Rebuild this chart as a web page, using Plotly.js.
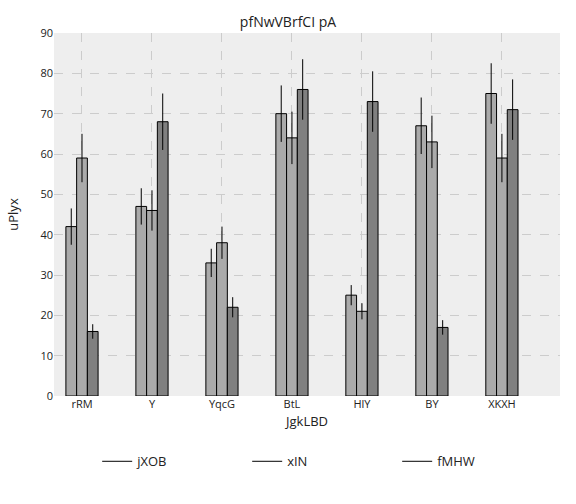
<!DOCTYPE html>
<html>
<head>
<script src="https://cdn.plot.ly/plotly-3.0.1.min.js"></script>
<style>body{margin:0}</style>
</head>
<body>
<div id="chart" style="width:576px;height:504px"></div>
<script>
var categories = ['rRM', 'Y', 'YqcG', 'BtL', 'HlY', 'BY', 'XKXH'];
var seriesNames = ['jXOB', 'xIN', 'fMHW'];
var values1 = [42, 47, 33, 70, 25, 67, 75];
var errors1 = [4.5, 4.5, 3.5, 7, 2.5, 7, 7.5];
var values2 = [59, 46, 38, 64, 21, 63, 59];
var errors2 = [6, 5, 4, 6.5, 2, 6.5, 6];
var values3 = [16, 68, 22, 76, 73, 17, 71];
var errors3 = [1.8, 7, 2.5, 7.5, 7.5, 1.8, 7.5];
var colors = ['#aaaaaa', '#aaaaaa', '#808080'];

var vals = [values1, values2, values3];
var errs = [errors1, errors2, errors3];
var idx = categories.map(function (c, i) { return i; });

var traces = [];
vals.forEach(function (v, k) {
  traces.push({
    type: 'bar', x: idx, y: v, name: seriesNames[k], showlegend: false,
    marker: {color: colors[k], line: {color: '#000', width: 1}},
    error_y: {type: 'data', array: errs[k], color: '#000', thickness: 1, width: 0}
  });
});
seriesNames.forEach(function (n) {
  traces.push({type: 'scatter', mode: 'lines', x: [null], y: [null], name: n,
    line: {color: '#000', width: 1}});
});

Plotly.newPlot('chart', traces, {
  width: 576, height: 504,
  font: {family: 'Open Sans, sans-serif', size: 11, color: '#222'},
  title: {text: 'pfNwVBrfCI pA', x: 0.5, y: 0.965, font: {size: 14}},
  margin: {l: 54, r: 16, t: 33, b: 108, autoexpand: false},
  paper_bgcolor: '#fff', plot_bgcolor: '#eeeeee',
  barmode: 'group', bargap: 0.54, bargroupgap: 0,
  xaxis: {
    range: [-0.4, 6.83], tickvals: idx, ticktext: categories,
    showgrid: true, gridcolor: '#cccccc', griddash: 'dash', zeroline: false,
    ticks: '', title: {text: 'JgkLBD', font: {size: 13}, standoff: 6}
  },
  yaxis: {
    range: [0, 90], dtick: 10, showgrid: true, gridcolor: '#cccccc',
    griddash: 'dash', zeroline: false, ticks: '',
    title: {text: 'uPlyx', font: {size: 13}}
  },
  legend: {orientation: 'h', x: 0.53, xanchor: 'center', y: -0.18, yanchor: 'middle',
    entrywidth: 105, font: {size: 13}}
}, {displayModeBar: false});
</script>
</body>
</html>
